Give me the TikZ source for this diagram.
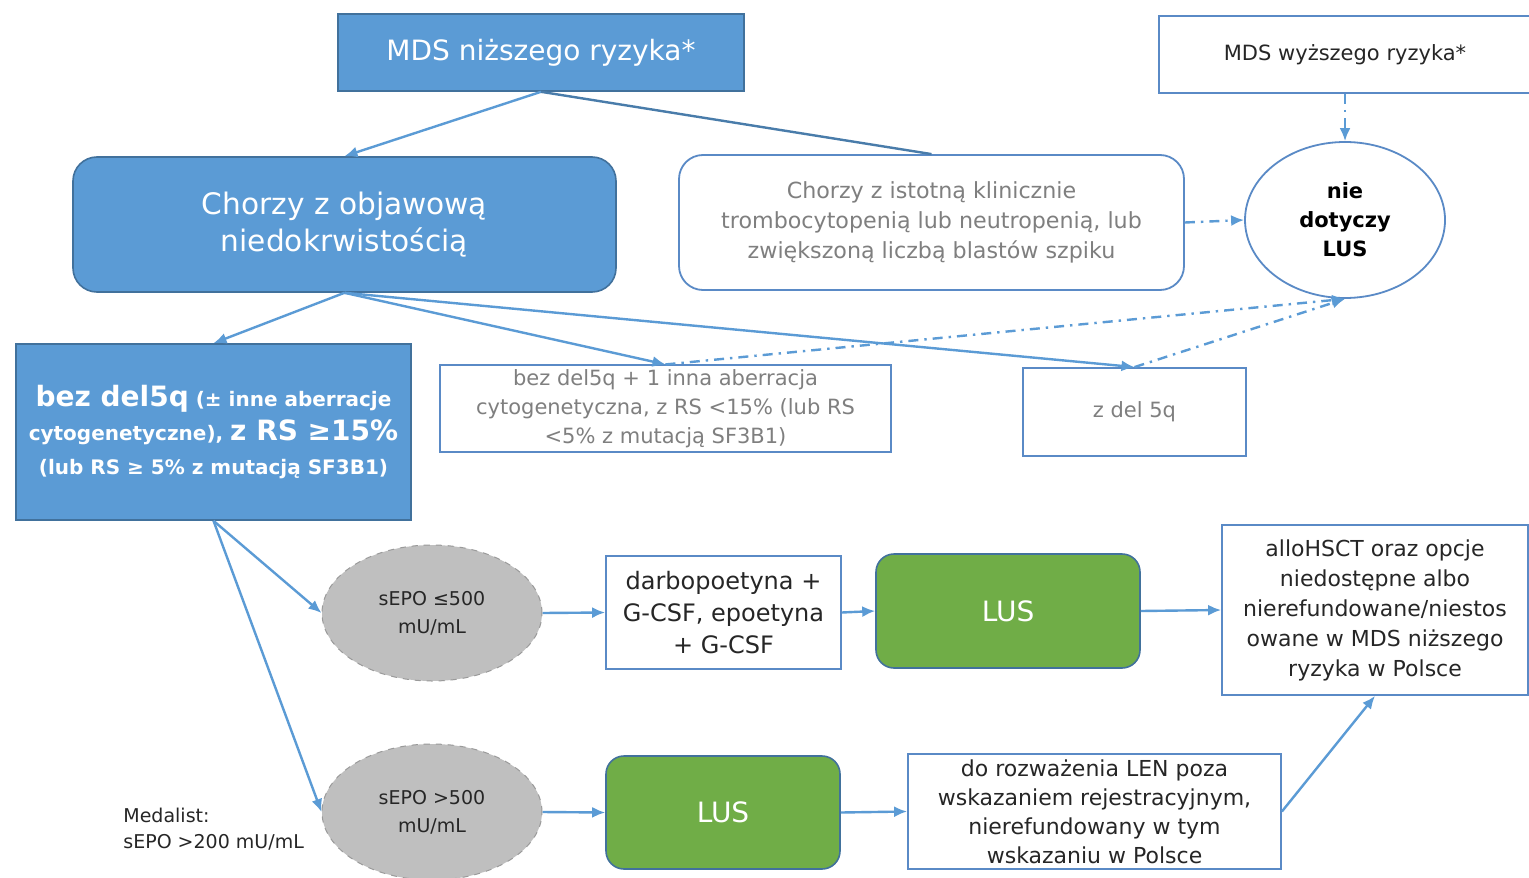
\documentclass[tikz,border=0pt]{standalone}
\usepackage{fontspec}
\setmainfont{DejaVu Sans}
\usetikzlibrary{shapes.geometric,arrows.meta}
\definecolor{mblue}{HTML}{5B9BD5}
\definecolor{dblue}{HTML}{41719C}
\definecolor{lblue}{HTML}{5A8AC6}
\definecolor{mgreen}{HTML}{70AD47}
\definecolor{mgray}{HTML}{BFBFBF}
\definecolor{dgray}{HTML}{9A9A9A}
\definecolor{tgray}{HTML}{7F7F7F}
\definecolor{tblack}{HTML}{262626}
\tikzset{
  bluebox/.style={draw=dblue, line width=0.8pt, fill=mblue, text=white, align=center, inner sep=2pt},
  whitebox/.style={draw=lblue, line width=0.9pt, fill=white, text=tblack, align=center, inner sep=2pt},
  greenbox/.style={draw=dblue, line width=0.8pt, fill=mgreen, text=white, align=center, rounded corners=9pt},
  grayell/.style={ellipse, draw=dgray, dashed, line width=0.5pt, fill=mgray, text=tblack, align=center, inner sep=0pt},
  conn/.style={draw=mblue, line width=1.2pt, -{Latex[length=6.5pt,width=5.5pt]}},
  plainconn/.style={draw=mblue!80!black, line width=1.2pt},
  dashconn/.style={draw=mblue, line width=1.2pt, dash pattern=on 5pt off 3pt on 1.2pt off 3pt, -{Latex[length=6.5pt,width=5.5pt]}},
}
\begin{document}
\begin{tikzpicture}[x=0.5pt,y=-0.5pt]
\useasboundingbox[fill=white] (0,0) rectangle (1529,877);
% nodes
\node[bluebox, minimum width=203pt, minimum height=38.5pt, font=\fontsize{14}{16}\selectfont] (A) at (541,52.5) {MDS niższego ryzyka*};
\node[whitebox, minimum width=186pt, minimum height=38.5pt, font=\fontsize{10.5}{12}\selectfont] (B) at (1345,54.5) {MDS wyższego ryzyka*};
\node[bluebox, rounded corners=12pt, minimum width=271.5pt, minimum height=67.5pt, font=\fontsize{14.8}{18.5}\selectfont] (C) at (344.5,224.5) {Chorzy z objawową\\niedokrwistością};
\node[whitebox, rounded corners=12pt, minimum width=252.5pt, minimum height=67.5pt, text=tgray, font=\fontsize{11.1}{15}\selectfont] (D) at (931.5,222.5) {Chorzy z istotną klinicznie\\trombocytopenią lub neutropenią, lub\\zwiększoną liczbą blastów szpiku};
\node[ellipse, draw=lblue, line width=0.9pt, fill=white, minimum width=100pt, minimum height=78pt, inner sep=0pt, align=center, text=black, font=\bfseries\fontsize{10.5}{14.5}\selectfont] (E) at (1345,220) {nie\\dotyczy\\LUS};
\node[bluebox, minimum width=197.5pt, minimum height=88pt, font=\bfseries\fontsize{10}{17}\selectfont] (F) at (213.5,432) {{\fontsize{14}{17}\selectfont bez del5q} (± inne aberracje\\cytogenetyczne), {\fontsize{14}{17}\selectfont z RS ≥15\%}\\(lub RS ≥ 5\% z mutacją SF3B1)};
\node[whitebox, minimum width=225.5pt, minimum height=42.5pt, text=tgray, font=\fontsize{10.5}{14.5}\selectfont] (G) at (665.5,408.5) {bez del5q + 1 inna aberracja\\cytogenetyczna, z RS <15\% (lub RS\\<5\% z mutacją SF3B1)};
\node[whitebox, minimum width=111.5pt, minimum height=44pt, text=tgray, font=\fontsize{10.5}{14}\selectfont] (H) at (1134.5,412) {z del 5q};
\node[grayell, minimum width=110pt, minimum height=68pt, font=\fontsize{9.5}{14}\selectfont] (I) at (432,613) {sEPO ≤500\\mU/mL};
\node[whitebox, minimum width=117.5pt, minimum height=56.5pt, font=\fontsize{12}{16}\selectfont] (J) at (723.5,612.5) {darbopoetyna +\\G-CSF, epoetyna\\+ G-CSF};
\node[greenbox, minimum width=132pt, minimum height=57pt, font=\fontsize{14}{17}\selectfont] (K) at (1008,611) {LUS};
\node[whitebox, minimum width=153pt, minimum height=85pt, font=\fontsize{11}{15}\selectfont] (L) at (1375,610) {alloHSCT oraz opcje\\niedostępne albo\\nierefundowane/niestos\\owane w MDS niższego\\ryzyka w Polsce};
\node[grayell, minimum width=110pt, minimum height=68pt, font=\fontsize{9.5}{14}\selectfont] (M) at (432,812) {sEPO >500\\mU/mL};
\node[greenbox, minimum width=117pt, minimum height=56.5pt, font=\fontsize{14}{17}\selectfont] (N) at (723,812.5) {LUS};
\node[whitebox, minimum width=186.5pt, minimum height=57.5pt, font=\fontsize{11}{14.5}\selectfont] (O) at (1094.5,811.5) {do rozważenia LEN poza\\wskazaniem rejestracyjnym,\\nierefundowany w tym\\wskazaniu w Polsce};
\node[anchor=north west, align=left, text=tblack, inner sep=0pt, font=\fontsize{9.5}{13}\selectfont] (med) at (123,808) {Medalist:\\sEPO >200 mU/mL};
% connectors
\draw[conn] (A.south) -- (C.north);
\draw[plainconn] (A.south) -- (D.north);
\draw[dashconn] (B.south) -- (E.north);
\draw[dashconn] (D.east) -- (E.west);
\draw[conn] (C.south) -- (F.north);
\draw[conn] (C.south) -- (G.north);
\draw[conn] (C.south) -- (H.north);
\draw[dashconn] (G.north) -- (E.south);
\draw[dashconn] (H.north) -- (E.south);
\draw[conn] (F.south) -- (I.west);
\draw[conn] (F.south) -- (M.west);
\draw[conn] (I.east) -- (J.west);
\draw[conn] (J.east) -- (K.west);
\draw[conn] (K.east) -- (L.west);
\draw[conn] (M.east) -- (N.west);
\draw[conn] (N.east) -- (O.west);
\draw[conn] (O.east) -- (L.south);
\end{tikzpicture}
\end{document}
